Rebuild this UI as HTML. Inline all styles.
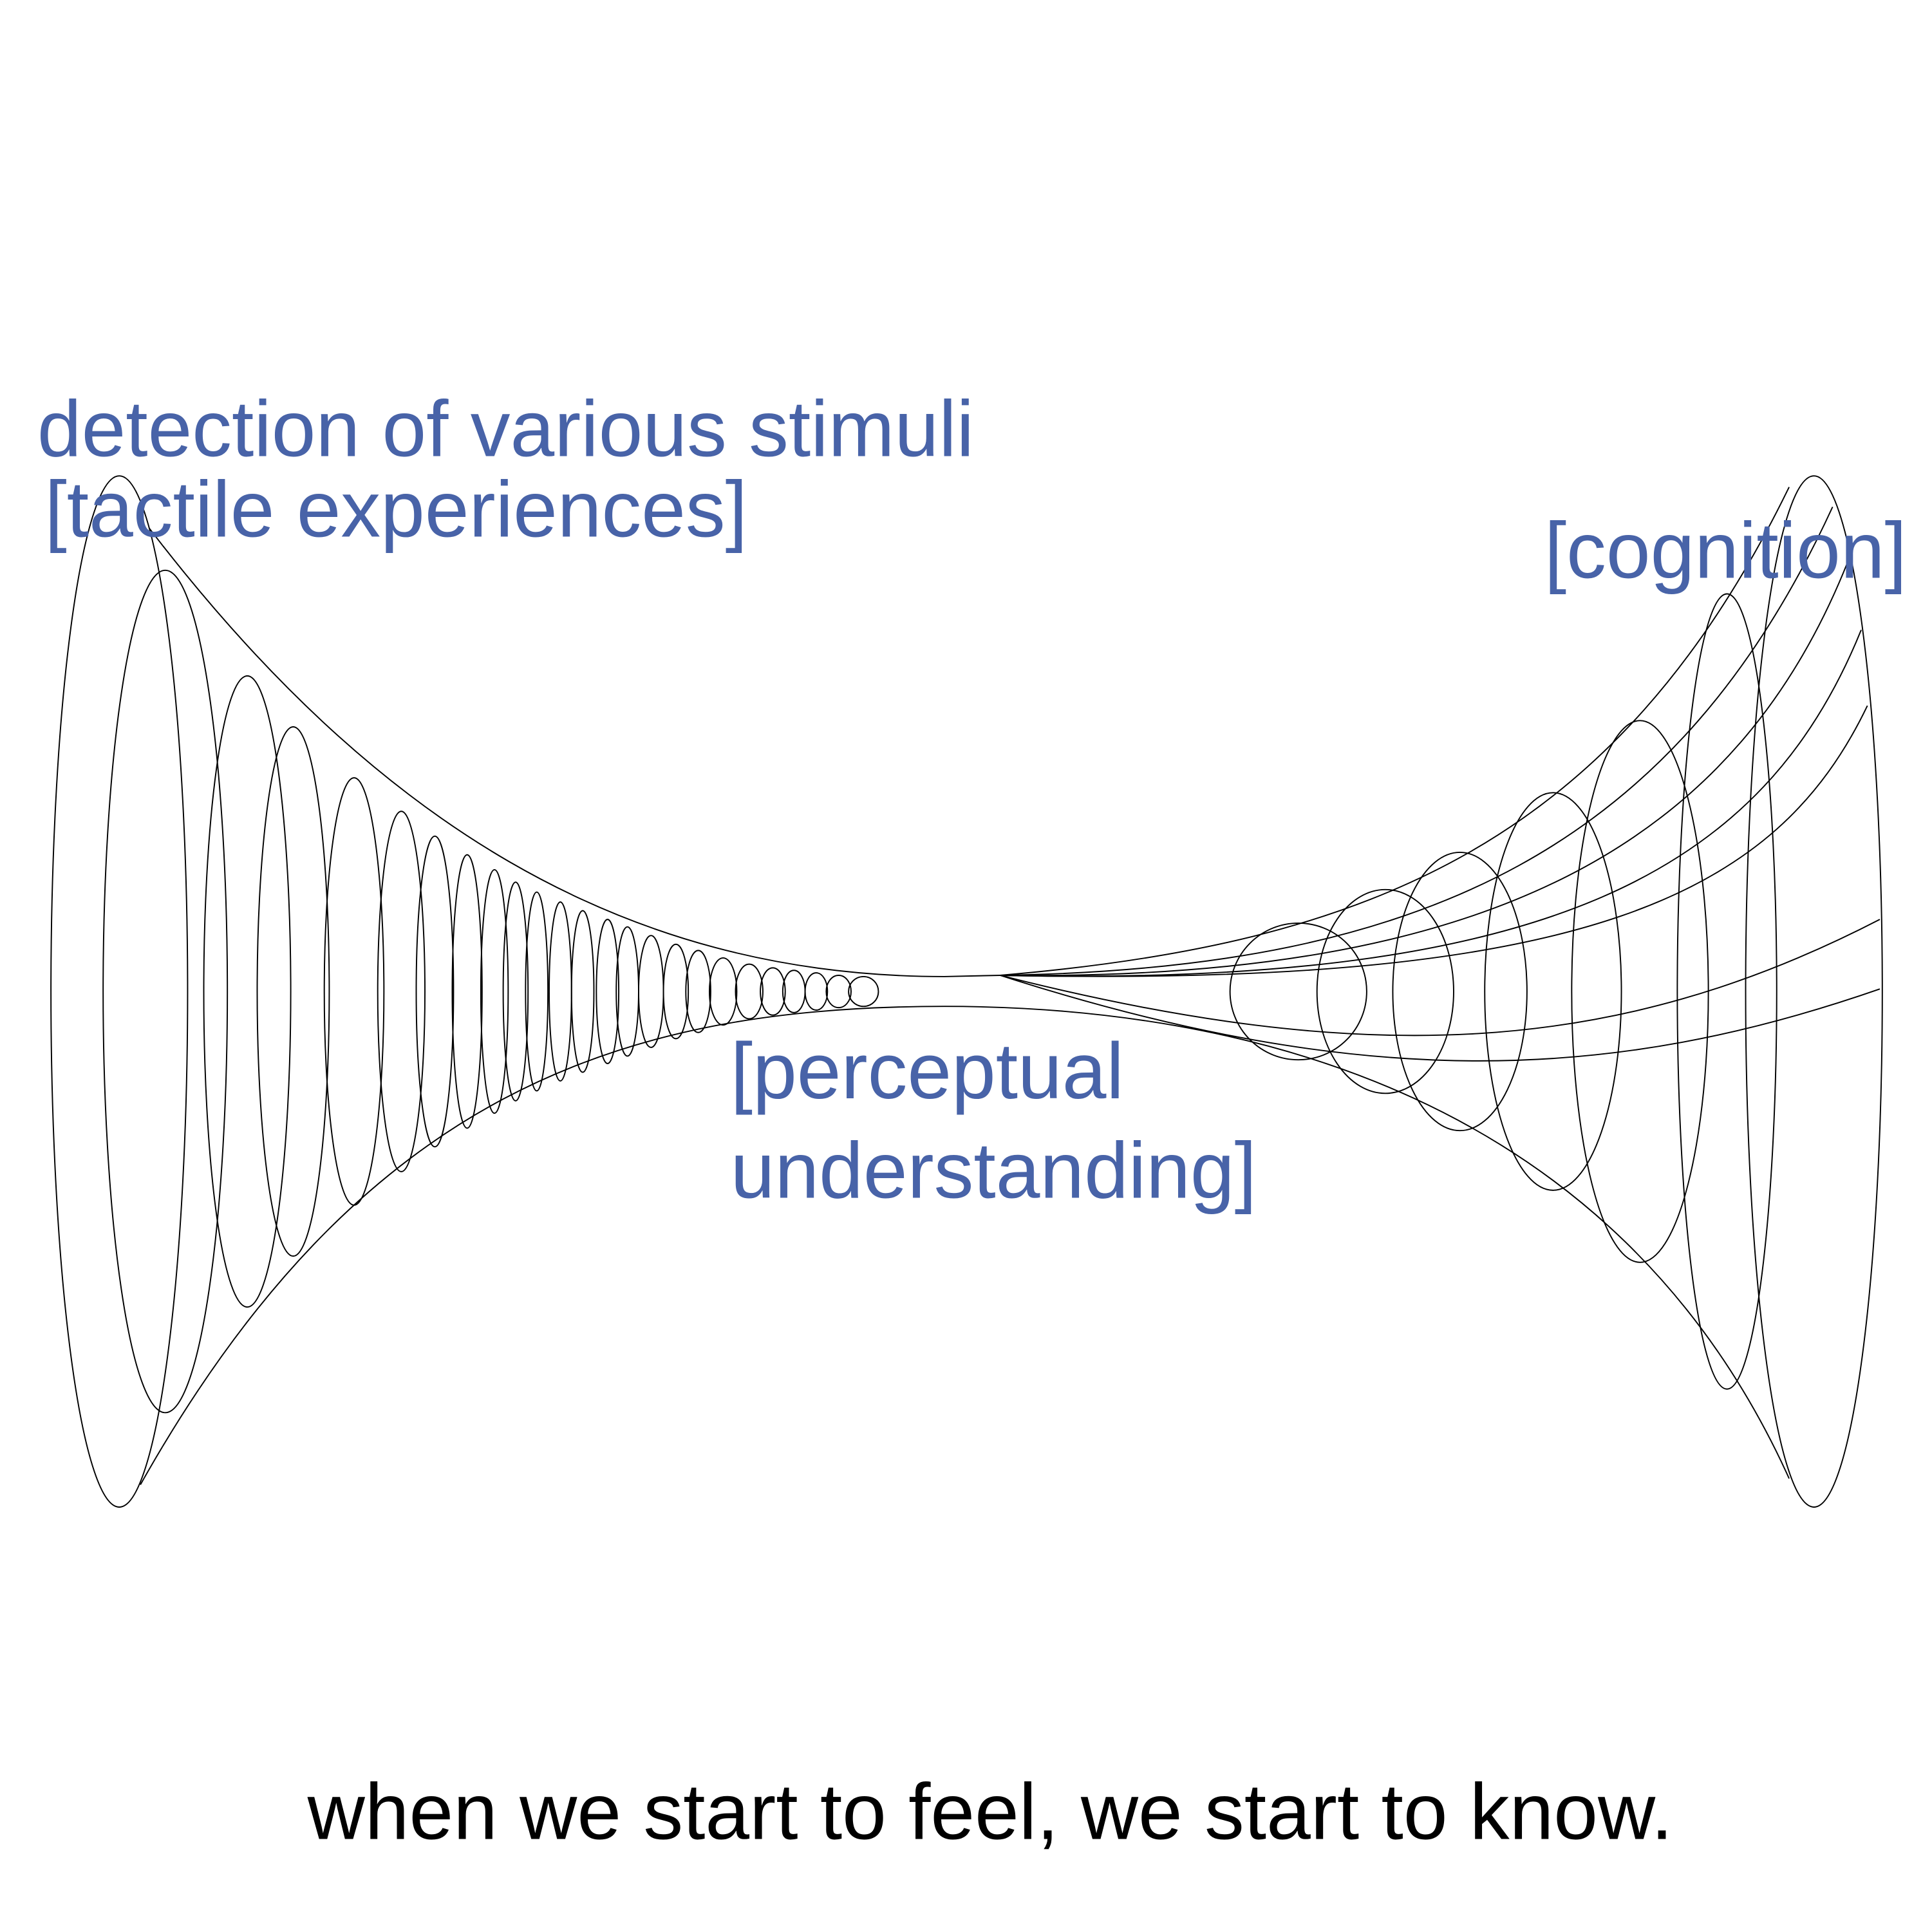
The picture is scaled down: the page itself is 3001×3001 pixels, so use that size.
<!DOCTYPE html>
<html><head><meta charset="utf-8"><style>
html,body{margin:0;padding:0;background:#fff}
svg{display:block}
</style></head><body>
<svg width="3001" height="3001" viewBox="0 0 1555 1555" xmlns="http://www.w3.org/2000/svg">
<g fill="none" stroke="#000" stroke-width="1">
<ellipse cx="96" cy="798" rx="55" ry="415"/>
<ellipse cx="133" cy="798" rx="50" ry="339"/>
<ellipse cx="199" cy="798" rx="35" ry="254"/>
<ellipse cx="236" cy="798" rx="29" ry="213"/>
<ellipse cx="285" cy="798" rx="24" ry="172"/>
<ellipse cx="323" cy="798" rx="19" ry="145"/>
<ellipse cx="350" cy="798" rx="15" ry="125"/>
<ellipse cx="376" cy="798" rx="12" ry="110"/>
<ellipse cx="398" cy="798" rx="11" ry="98"/>
<ellipse cx="415" cy="798" rx="10" ry="88"/>
<ellipse cx="432" cy="798" rx="9" ry="80"/>
<ellipse cx="451" cy="798" rx="9" ry="72"/>
<ellipse cx="469" cy="798" rx="9" ry="65"/>
<ellipse cx="489" cy="798" rx="9" ry="58"/>
<ellipse cx="505" cy="798" rx="9" ry="52"/>
<ellipse cx="524" cy="798" rx="10" ry="45"/>
<ellipse cx="544" cy="798" rx="10" ry="38"/>
<ellipse cx="562" cy="798" rx="10" ry="33"/>
<ellipse cx="582" cy="798" rx="11" ry="27"/>
<ellipse cx="603" cy="798" rx="11" ry="22"/>
<ellipse cx="622" cy="798" rx="10" ry="19"/>
<ellipse cx="639" cy="798" rx="9" ry="17"/>
<ellipse cx="657" cy="798" rx="9" ry="15"/>
<ellipse cx="675" cy="798" rx="10" ry="13"/>
<ellipse cx="695" cy="798" rx="12" ry="12"/>
<path d="M120,425 C300,660 500,786 760,786 L805,785"/>
<path d="M113,1195 C290,880 500,810 760,810 C1000,810 1300,880 1440,1190"/>
<ellipse cx="1045" cy="798" rx="55" ry="55"/>
<ellipse cx="1115" cy="798" rx="55" ry="82"/>
<ellipse cx="1175" cy="798" rx="54" ry="112"/>
<ellipse cx="1250" cy="798" rx="55" ry="160"/>
<ellipse cx="1320" cy="798" rx="55" ry="218"/>
<ellipse cx="1390" cy="798" rx="40" ry="320"/>
<ellipse cx="1460" cy="798" rx="55" ry="415"/>
<path d="M805,785 C1100,760 1300,680 1440,392"/>
<path d="M805,785 C1150,780 1350,680 1475,408"/>
<path d="M805,785 C1200,790 1400,680 1490,445"/>
<path d="M805,785 C1250,795 1420,700 1498,507"/>
<path d="M805,785 C1280,795 1430,720 1503,568"/>
<path d="M805,785 C1100,860 1300,850 1513,740"/>
<path d="M805,785 C1100,880 1300,870 1513,796"/>
</g>
<g font-family="Liberation Sans, Arial, sans-serif" fill="#4863A8" font-size="64">
<text x="30" y="367">detection of various stimuli</text>
<text x="36" y="432">[tactile experiences]</text>
<text x="1243" y="465">[cognition]</text>
<text x="588" y="884">[perceptual</text>
<text x="588" y="964">understanding]</text>
</g>
<text x="797" y="1480" text-anchor="middle" font-family="Liberation Sans, Arial, sans-serif" font-size="64" fill="#000">when we start to feel, we start to know.</text>
</svg>
</body></html>
